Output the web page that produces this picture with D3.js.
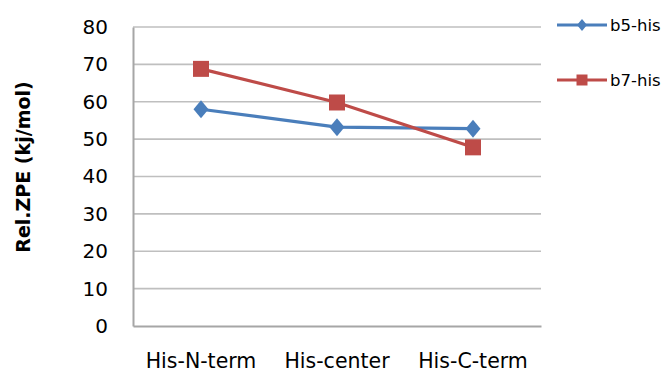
<!DOCTYPE html>
<html>
<head>
<meta charset="utf-8">
<script src="https://cdn.jsdelivr.net/npm/d3@7"></script>
<style>
  html, body { margin: 0; padding: 0; background: #fff; }
  svg { display: block; }
  text { font-family: "DejaVu Sans", "Liberation Sans", sans-serif; }
</style>
</head>
<body>
<svg id="chart" width="667" height="372"></svg>
<script>
// Relative zero-point energies per histidine position
const categories = ["His-N-term", "His-center", "His-C-term"];
const b5his = [58, 53.2, 52.8];
const b7his = [68.8, 59.8, 47.8];
const yTicks = [0, 10, 20, 30, 40, 50, 60, 70, 80];
const seriesNames = ["b5-his", "b7-his"];

const svg = d3.select("#chart");
const margin = { left: 133, right: 126, top: 27, bottom: 46 };
const W = 667, H = 372;

const x = d3.scaleBand().domain(categories).range([margin.left, W - margin.right]);
const y = d3.scaleLinear().domain([0, 80]).range([H - margin.bottom, margin.top]);

const gridColor = "#bfbfbf";
const axisColor = "#a6a6a6";

// diamond marker with given width and height
function diamond(w, h) {
  return `M0,${-h / 2}L${w / 2},0L0,${h / 2}L${-w / 2},0Z`;
}
function square(s) {
  return `M${-s / 2},${-s / 2}h${s}v${s}h${-s}Z`;
}

// horizontal gridlines
svg.append("g")
  .selectAll("line")
  .data(yTicks.filter(d => d > 0))
  .join("line")
  .attr("x1", margin.left).attr("x2", W - margin.right)
  .attr("y1", d => y(d)).attr("y2", d => y(d))
  .attr("stroke", gridColor).attr("stroke-width", 1.6);

// y axis
const yAxis = svg.append("g")
  .attr("transform", `translate(${margin.left},0)`)
  .call(d3.axisLeft(y).tickValues(yTicks).tickSize(0).tickPadding(25));
yAxis.select(".domain").attr("stroke", axisColor).attr("stroke-width", 2);
yAxis.selectAll("text").attr("font-size", 20).attr("fill", "#000");

// x axis
const xAxis = svg.append("g")
  .attr("transform", `translate(0,${y(0)})`)
  .call(d3.axisBottom(x).tickSize(0).tickPadding(27));
xAxis.select(".domain").attr("stroke", axisColor).attr("stroke-width", 2);
xAxis.selectAll("text").attr("font-size", 20.5).attr("fill", "#000");

// y axis title
svg.append("text")
  .attr("transform", `translate(30,167) rotate(-90)`)
  .attr("text-anchor", "middle")
  .attr("font-size", 19).attr("font-weight", "bold").attr("fill", "#000")
  .text("Rel.ZPE (kj/mol)");

const series = [
  { name: seriesNames[0], values: b5his, color: "#4a7ebb", marker: diamond(15, 18), legendMarker: diamond(10, 12) },
  { name: seriesNames[1], values: b7his, color: "#be4b48", marker: square(16), legendMarker: square(11) }
];

const line = d3.line()
  .x((d, i) => x(categories[i]) + x.bandwidth() / 2)
  .y(d => y(d));

series.forEach(s => {
  svg.append("path")
    .datum(s.values)
    .attr("d", line)
    .attr("fill", "none")
    .attr("stroke", s.color)
    .attr("stroke-width", 3.2);
  svg.append("g")
    .selectAll("path")
    .data(s.values)
    .join("path")
    .attr("transform", (d, i) => `translate(${x(categories[i]) + x.bandwidth() / 2},${y(d)})`)
    .attr("d", s.marker)
    .attr("fill", s.color);
});

// legend
const legend = svg.append("g");
series.forEach((s, i) => {
  const ly = 25 + i * 55;
  legend.append("line")
    .attr("x1", 557).attr("x2", 607).attr("y1", ly).attr("y2", ly)
    .attr("stroke", s.color).attr("stroke-width", 3.2);
  legend.append("path")
    .attr("transform", `translate(582,${ly})`)
    .attr("d", s.legendMarker)
    .attr("fill", s.color);
  legend.append("text")
    .attr("x", 610).attr("y", ly).attr("dy", "0.35em")
    .attr("font-size", 16.5).attr("fill", "#000")
    .text(s.name);
});
</script>
</body>
</html>
